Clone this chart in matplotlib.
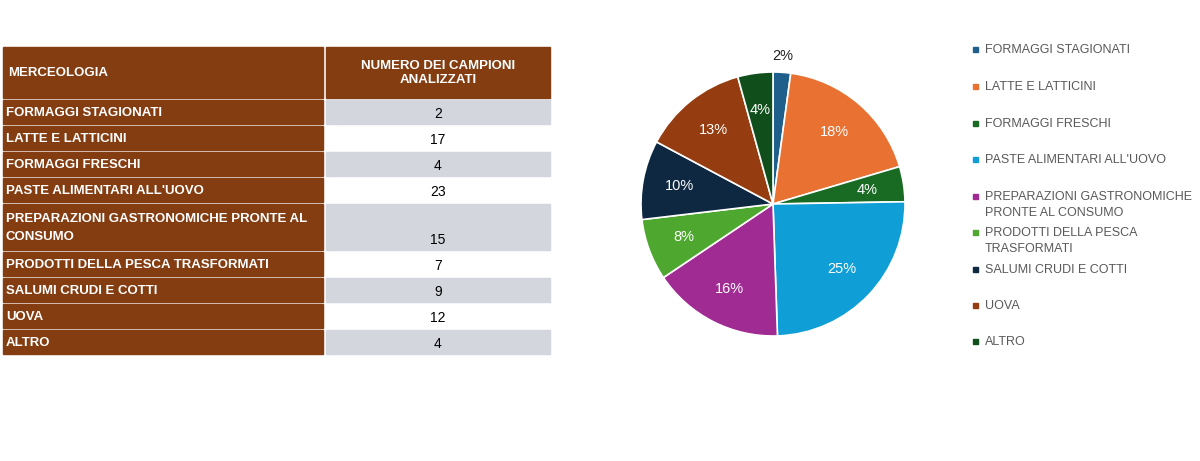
import matplotlib
matplotlib.use("Agg")
import matplotlib.pyplot as plt
from matplotlib.patches import Rectangle
import numpy as np

categories = ["FORMAGGI STAGIONATI", "LATTE E LATTICINI", "FORMAGGI FRESCHI",
              "PASTE ALIMENTARI ALL'UOVO", "PREPARAZIONI GASTRONOMICHE PRONTE AL\nCONSUMO",
              "PRODOTTI DELLA PESCA TRASFORMATI", "SALUMI CRUDI E COTTI", "UOVA", "ALTRO"]
legend_labels = ["FORMAGGI STAGIONATI", "LATTE E LATTICINI", "FORMAGGI FRESCHI",
                 "PASTE ALIMENTARI ALL'UOVO", "PREPARAZIONI GASTRONOMICHE\nPRONTE AL CONSUMO",
                 "PRODOTTI DELLA PESCA\nTRASFORMATI", "SALUMI CRUDI E COTTI", "UOVA", "ALTRO"]
values = [2, 17, 4, 23, 15, 7, 9, 12, 4]
header = ["MERCEOLOGIA", "NUMERO DEI CAMPIONI\nANALIZZATI"]
colors = ["#1F5F8B", "#E97132", "#196B24", "#0F9ED5", "#A02B93",
          "#4EA72E", "#0E2841", "#953D10", "#104F1C"]

W, H = 1200, 461
fig = plt.figure(figsize=(12, 4.61), dpi=100)
ax = fig.add_axes([0, 0, 1, 1])
ax.set_xlim(0, W); ax.set_ylim(H, 0); ax.axis("off")

brown = "#843C11"
gray = "#D3D6DD"
font = "Liberation Sans"
# header
ax.add_patch(Rectangle((3, 47), 320, 51, color=brown))
ax.add_patch(Rectangle((326, 47), 224, 51, color=brown))
ax.text(8, 73, header[0], color="white", fontweight="bold", fontsize=9.5, va="center", family=font)
ax.text(438, 73, header[1], color="white", fontweight="bold", fontsize=9.5, va="center", ha="center",
        family=font, linespacing=1.3)
rows = [(100, 24), (126, 24), (152, 24), (178, 24), (204, 46), (252, 24), (278, 24), (304, 24), (330, 24)]
for i, ((y, h), cat, v) in enumerate(zip(rows, categories, values)):
    ax.add_patch(Rectangle((3, y), 320, h, color=brown))
    if i % 2 == 0:
        ax.add_patch(Rectangle((326, y), 224, h, color=gray))
    ax.text(6, y + h / 2 + 1, cat, color="white", fontweight="bold", fontsize=9.5, va="center",
            family=font, linespacing=1.6)
    ax.text(438, y + h - 10, str(v), color="black", fontsize=10, va="center", ha="center", family=font)

# pie
cx, cy, r = 773, 204, 132
pax = fig.add_axes([(cx - r) / W, (H - cy - r) / H, 2 * r / W, 2 * r / H])
wedges, _ = pax.pie(values, colors=colors, startangle=90, counterclock=False,
                    wedgeprops=dict(edgecolor="white", linewidth=1.2))
pax.set_xlim(-1, 1); pax.set_ylim(-1, 1); pax.set_aspect("auto")
total = sum(values)
for w, v in zip(wedges, values):
    ang = np.deg2rad((w.theta1 + w.theta2) / 2)
    pct = f"{round(100 * v / total)}%"
    if v / total < 0.03:
        pax.text(1.1 * np.cos(ang), 1.12 * np.sin(ang), pct, ha="center", va="center",
                 fontsize=10.5, color="#222222", family=font)
    else:
        d = 0.72
        pax.text(d * np.cos(ang), d * np.sin(ang), pct, ha="center", va="center",
                 fontsize=10.5, color="white", family=font)

# legend
ly = [50, 87, 124, 160, 205, 241, 270, 306, 342]
for y, lab, c in zip(ly, legend_labels, colors):
    first = y - 8 if "\n" in lab else y
    ax.add_patch(Rectangle((973, first - 3), 5, 5, color=c))
    ax.text(985, y, lab, color="#595959", fontsize=9, va="center", family=font, linespacing=1.5)

fig.savefig("out.png", dpi=100)
